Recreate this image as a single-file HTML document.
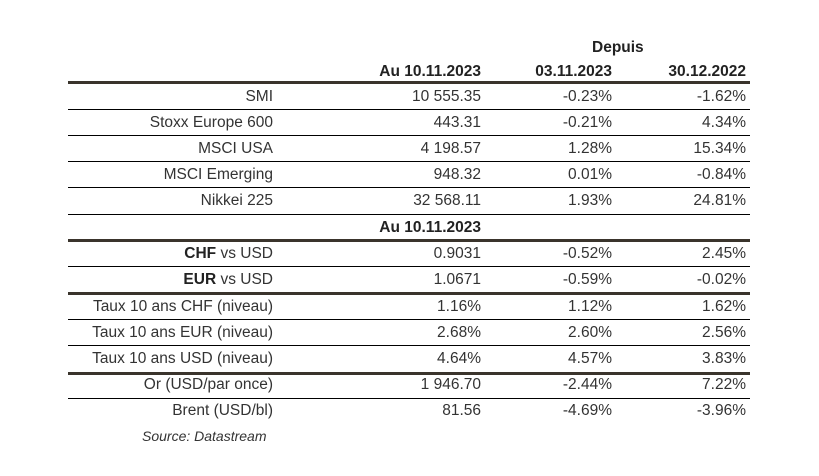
<!DOCTYPE html>
<html><head><meta charset="utf-8"><style>
body{margin:0;width:819px;height:476px;background:#fff;position:relative;overflow:hidden;font-family:"Liberation Sans",sans-serif;font-size:15.5px;color:#333;}
.l{position:absolute;left:68px;width:682px;background:#000;height:1px}
.t{position:absolute;left:68px;width:682px;background:#3a342c;height:3px}
.r{position:absolute;height:20px;line-height:20px;white-space:nowrap}
.c1{right:546px;text-align:right}
.c2{right:338px}
.c3{right:207px}
.c4{right:73px}
b{font-weight:bold;color:#222}
</style></head><body>
<div class="r" style="top:38px;left:592px"><b>Depuis</b></div>
<div class="r c2" style="top:62px"><b>Au 10.11.2023</b></div>
<div class="r c3" style="top:62px"><b>03.11.2023</b></div>
<div class="r c4" style="top:62px"><b>30.12.2022</b></div>
<div class="t" style="top:81px"></div>
<div class="l" style="top:109px"></div>
<div class="l" style="top:135px"></div>
<div class="l" style="top:161px"></div>
<div class="l" style="top:187px"></div>
<div class="l" style="top:214px"></div>
<div class="t" style="top:239px"></div>
<div class="l" style="top:266px"></div>
<div class="t" style="top:292px"></div>
<div class="l" style="top:319px"></div>
<div class="l" style="top:345px"></div>
<div class="t" style="top:372px"></div>
<div class="l" style="top:398px"></div>

<div class="r c1" style="top:87px">SMI</div><div class="r c2" style="top:87px">10 555.35</div><div class="r c3" style="top:87px">-0.23%</div><div class="r c4" style="top:87px">-1.62%</div>
<div class="r c1" style="top:113px">Stoxx Europe 600</div><div class="r c2" style="top:113px">443.31</div><div class="r c3" style="top:113px">-0.21%</div><div class="r c4" style="top:113px">4.34%</div>
<div class="r c1" style="top:139px">MSCI USA</div><div class="r c2" style="top:139px">4 198.57</div><div class="r c3" style="top:139px">1.28%</div><div class="r c4" style="top:139px">15.34%</div>
<div class="r c1" style="top:165px">MSCI Emerging</div><div class="r c2" style="top:165px">948.32</div><div class="r c3" style="top:165px">0.01%</div><div class="r c4" style="top:165px">-0.84%</div>
<div class="r c1" style="top:191px">Nikkei 225</div><div class="r c2" style="top:191px">32 568.11</div><div class="r c3" style="top:191px">1.93%</div><div class="r c4" style="top:191px">24.81%</div>
<div class="r c2" style="top:218px"><b>Au 10.11.2023</b></div>
<div class="r c1" style="top:244px"><b>CHF</b> vs USD</div><div class="r c2" style="top:244px">0.9031</div><div class="r c3" style="top:244px">-0.52%</div><div class="r c4" style="top:244px">2.45%</div>
<div class="r c1" style="top:270px"><b>EUR</b> vs USD</div><div class="r c2" style="top:270px">1.0671</div><div class="r c3" style="top:270px">-0.59%</div><div class="r c4" style="top:270px">-0.02%</div>
<div class="r c1" style="top:297px">Taux 10 ans CHF (niveau)</div><div class="r c2" style="top:297px">1.16%</div><div class="r c3" style="top:297px">1.12%</div><div class="r c4" style="top:297px">1.62%</div>
<div class="r c1" style="top:323px">Taux 10 ans EUR (niveau)</div><div class="r c2" style="top:323px">2.68%</div><div class="r c3" style="top:323px">2.60%</div><div class="r c4" style="top:323px">2.56%</div>
<div class="r c1" style="top:349px">Taux 10 ans USD (niveau)</div><div class="r c2" style="top:349px">4.64%</div><div class="r c3" style="top:349px">4.57%</div><div class="r c4" style="top:349px">3.83%</div>
<div class="r c1" style="top:375px">Or (USD/par once)</div><div class="r c2" style="top:375px">1 946.70</div><div class="r c3" style="top:375px">-2.44%</div><div class="r c4" style="top:375px">7.22%</div>
<div class="r c1" style="top:401px">Brent (USD/bl)</div><div class="r c2" style="top:401px">81.56</div><div class="r c3" style="top:401px">-4.69%</div><div class="r c4" style="top:401px">-3.96%</div>
<div class="r" style="top:426px;left:142px;font-style:italic;font-size:14px">Source: Datastream</div>
</body></html>
